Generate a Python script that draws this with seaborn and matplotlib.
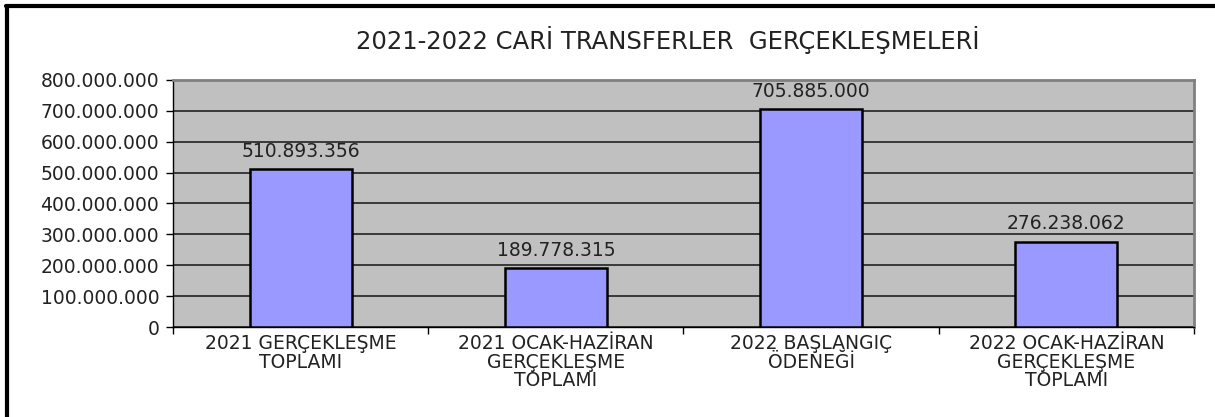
# 2021-2022 cari transferler bar chart
import numpy as np
import pandas as pd
import matplotlib
matplotlib.use('Agg')
import matplotlib.pyplot as plt
from matplotlib.ticker import FuncFormatter, FixedLocator
import seaborn as sns

# data
categories = ['2021 GERÇEKLEŞME\nTOPLAMI',
              '2021 OCAK-HAZİRAN\nGERÇEKLEŞME\nTOPLAMI',
              '2022 BAŞLANGIÇ\nÖDENEĞİ',
              '2022 OCAK-HAZİRAN\nGERÇEKLEŞME\nTOPLAMI']
values = [510893356, 189778315, 705885000, 276238062]
yticks = [0, 100000000, 200000000, 300000000, 400000000,
          500000000, 600000000, 700000000, 800000000]

df = pd.DataFrame({'kategori': categories, 'tutar': values})

sns.set_style('white')
plt.rcParams['font.family'] = ['DejaVu Sans']

FS = 13.5
TXT = '#222222'


def dotted(v, pos=None):
    return f'{int(round(v)):,}'.replace(',', '.')


fig = plt.figure(figsize=(12.15, 4.17), dpi=100)
ax = fig.add_axes([0.1424, 0.2158, 0.8403, 0.5924])

sns.barplot(data=df, x='kategori', y='tutar', color='#9999ff',
            saturation=1, width=0.4, edgecolor='black', linewidth=1.8,
            ax=ax, zorder=3)

ax.set_facecolor('#c0c0c0')
ax.set_xlim(-0.5, 3.5)
ax.set_ylim(0, 800000000)
ax.set_yticks(yticks)
ax.yaxis.set_major_formatter(FuncFormatter(dotted))
ax.grid(axis='y', color='#151515', linewidth=1.1, zorder=1)
ax.set_axisbelow(True)

# ticks between categories, like excel
ax.xaxis.set_minor_locator(FixedLocator([-0.5, 0.5, 1.5, 2.5, 3.5]))
ax.tick_params(axis='x', which='major', length=0, pad=5, labelsize=FS,
               colors=TXT)
ax.tick_params(axis='x', which='minor', length=5, width=1, color='black',
               direction='out', bottom=True)
ax.tick_params(axis='y', length=5, width=1, color='black', direction='out',
               left=True, labelsize=FS, labelcolor=TXT, pad=5)
for lbl in ax.get_xticklabels():
    lbl.set_linespacing(0.97)

ax.set_xlabel('')
ax.set_ylabel('')

for s in ['top', 'right']:
    ax.spines[s].set_color('#808080')
    ax.spines[s].set_linewidth(2)
for s in ['left', 'bottom']:
    ax.spines[s].set_color('black')
    ax.spines[s].set_linewidth(1)

# value labels above bars
for i, v in enumerate(values):
    ax.annotate(dotted(v), xy=(i, v), xytext=(0, 6),
                textcoords='offset points', ha='center', va='bottom',
                fontsize=FS, color=TXT)

fig.text(0.55, 0.904, '2021-2022 CARİ TRANSFERLER  GERÇEKLEŞMELERİ',
         ha='center', va='center', fontsize=17.5, color=TXT)

# outer frame (top and left edges only visible)
fig.add_artist(plt.Line2D([0.0052, 1.0], [0.986, 0.986], color='black',
                          linewidth=3, transform=fig.transFigure))
fig.add_artist(plt.Line2D([0.0058, 0.0058], [0.0, 0.986], color='black',
                          linewidth=3, transform=fig.transFigure))

fig.savefig('out.png', dpi=100, facecolor='white')
